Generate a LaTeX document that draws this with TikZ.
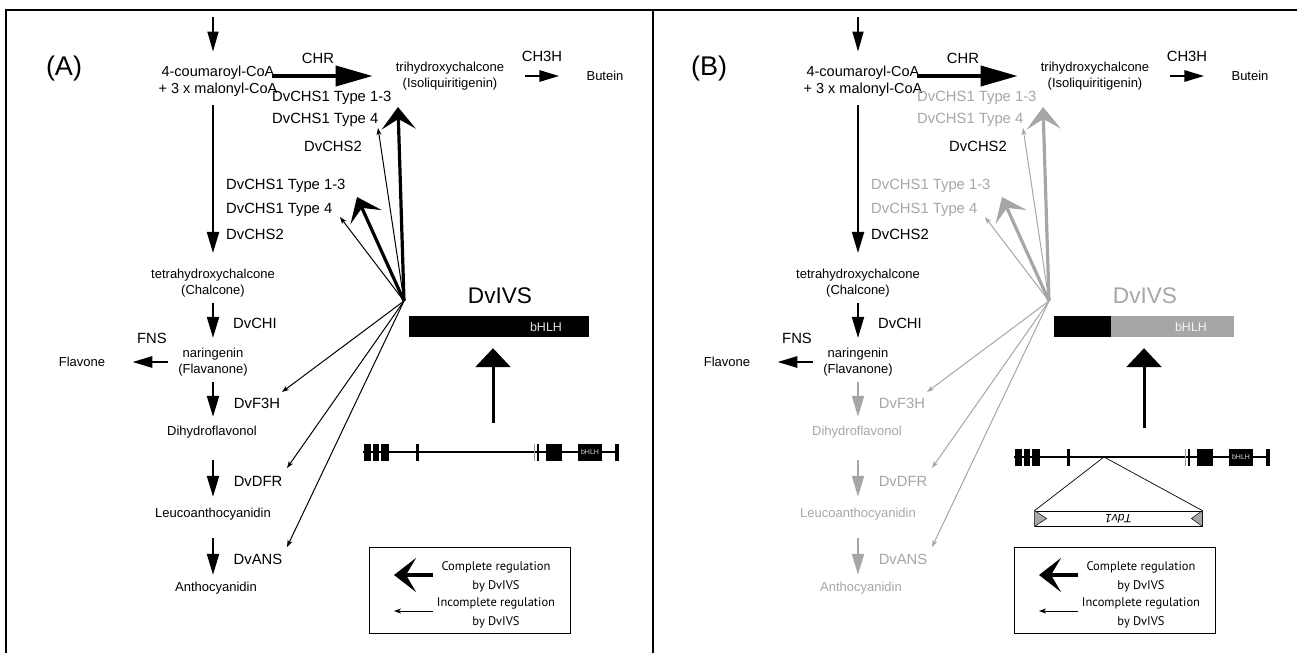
\documentclass[tikz,border=0pt]{standalone}
\usepackage{fontspec}
\setmainfont{Liberation Sans}
\newfontfamily\legfont{PT Sans}
\usetikzlibrary{arrows.meta}
\definecolor{offgray}{RGB}{166,166,166}

% one panel: #1 letter, #2 colour of the steps under DvIVS, #3 shift of the gene model
\newcommand{\flavpanel}[3]{%
  \node (tag) at (64,69) {\fontsize{27}{30}\selectfont #1};
  % compounds
  \node[compound, font=\fontsize{14.5}{17}\selectfont] (coa) at (218,81) {4-coumaroyl-CoA\\+ 3 x malonyl-CoA};
  \node[compound] (tri) at (450,76) {trihydroxychalcone\\(Isoliquiritigenin)};
  \node[compound] (but) at (605,76) {Butein};
  \node[compound] (chal) at (213,283) {tetrahydroxychalcone\\(Chalcone)};
  \node[compound] (nar) at (213,362) {naringenin\\(Flavanone)};
  \node[compound] (flav) at (82,362) {Flavone};
  \node[compound, text=#2] (dih) at (212,432) {Dihydroflavonol};
  \node[compound, text=#2] (leu) at (213,514) {Leucoanthocyanidin};
  \node[compound, text=#2] (ant) at (216,588) {Anthocyanidin};
  % enzymes
  \node[enzyme] (chr) at (318,58) {CHR};
  \node[enzyme] (chh) at (542,56) {CH3H};
  \node[enzyme, anchor=west, text=#2] (u13) at (272,98) {DvCHS1 Type 1-3};
  \node[enzyme, anchor=west, text=#2] (u4) at (272,120) {DvCHS1 Type 4};
  \node[enzyme] (u2) at (333,146) {DvCHS2};
  \node[enzyme, anchor=west, text=#2] (l13) at (226,186) {DvCHS1 Type 1-3};
  \node[enzyme, anchor=west, text=#2] (l4) at (226,210) {DvCHS1 Type 4};
  \node[enzyme, anchor=west] (l2) at (226,234) {DvCHS2};
  \node[enzyme] (chi) at (255,323) {DvCHI};
  \node[enzyme] (fns) at (152,338) {FNS};
  \node[enzyme, text=#2] (f3h) at (257,403) {DvF3H};
  \node[enzyme, text=#2] (dfr) at (258,481) {DvDFR};
  \node[enzyme, text=#2] (ans) at (258,559) {DvANS};
  % pathway
  \coordinate (in) at (213,17);
  \draw[feed, shorten >=14pt] (in) -- (in |- coa.north);
  \draw[conv, line width=2.2pt, shorten <=9pt, shorten >=15.5pt] (in |- coa.south) -- (in |- chal.north);
  \draw[conv, shorten <=5.6pt, shorten >=9.6pt] (in |- chal.south) -- (in |- nar.north);
  \draw[conv, #2, shorten <=5.6pt, shorten >=8.9pt] (in |- nar.south) -- (in |- dih.north);
  \draw[conv, #2, shorten <=21.9pt, shorten >=10.9pt] (in |- dih.south) -- (in |- leu.north);
  \draw[conv, #2, shorten <=17.9pt, shorten >=6.9pt] (in |- leu.south) -- (in |- ant.north);
  \draw[mainflux, shorten >=23pt] ([xshift=-5.5pt,yshift=5pt]coa.east) -- (tri.west);
  \draw[sideflux, shorten <=21pt, shorten >=27pt] (tri.east) -- (but.west);
  \draw[sideflux, shorten <=10pt, shorten >=27pt] (nar.west) -- (flav.east);
  % DvIVS targets
  \coordinate (hub) at (404,301);
  \coordinate (t-u13) at (398,107);
  \coordinate (t-u4) at (378,128);
  \coordinate (t-l13) at (357,197);
  \coordinate (t-l4) at (340,217);
  \coordinate (t-f3h) at (282,392);
  \coordinate (t-dfr) at (287,468);
  \coordinate (t-ans) at (287,547);
  \foreach \tip in {u13,l13} \draw[strongreg, #2] (hub) -- (t-\tip);
  \foreach \tip in {u4,l4,f3h,dfr,ans} \draw[weakreg, #2] (hub) -- (t-\tip);
  % protein
  \node[text=#2, font=\fontsize{22.6}{24}\selectfont] (ivs) at (500,296) {DvIVS};
  \node[fill=#2, minimum width=180pt, minimum height=21pt, inner sep=0pt] (bar) at (499,326.5) {};
  \fill (bar.north west) rectangle ([xshift=57pt]bar.south west);
  \node[text=white!88!#2, font=\fontsize{12.5}{13}\selectfont, inner sep=0pt] (dom) at (546,327) {bHLH};
  % gene model
  \begin{scope}[shift={#3}]
    \draw[line width=1.5pt] (363,452) -- (618,452);
    \foreach \a/\b in {364/371,373/379,381/389,416/419,536.5/539,546/562,578/602,615/619}
      \fill (\a,443.5) rectangle (\b,460.5);
    \draw[black!40, line width=0.8pt] (534.5,443.5) -- (534.5,460.5);
    \node[text=white!85!black, font=\fontsize{7}{7}\selectfont, inner sep=0pt] (gdom) at (590,452) {bHLH};
    \coordinate (gm) at (493,423);
  \end{scope}
  \draw[lift, shorten >=11pt] (gm) -- (gm |- bar.south);
  % key
  \draw[line width=1pt] (369,547) rectangle (570,633);
  \coordinate (k1) at (433,575);
  \coordinate (k2) at (394,575);
  \coordinate (k3) at (433,611);
  \coordinate (k4) at (394,611);
  \draw[strongreg] (k1) -- (k2);
  \draw[weakreg] (k3) -- (k4);
  \node[legtext] (kt1) at (496,567) {Complete regulation};
  \node[legtext] (kt2) at (496,586) {by DvIVS};
  \node[legtext] (kt3) at (496,603) {Incomplete regulation};
  \node[legtext] (kt4) at (496,622) {by DvIVS};
}

\begin{document}
\begin{tikzpicture}[x=1pt, y=-1pt,
  compound/.style={inner sep=0pt, align=center, font=\fontsize{13}{16.5}\selectfont},
  enzyme/.style={inner sep=0pt, font=\fontsize{14.8}{17}\selectfont},
  legtext/.style={inner sep=0pt, font=\legfont\fontsize{12.5}{14}\selectfont},
  conv/.style={-{Triangle[length=21pt,width=12pt]}, line width=2pt},
  feed/.style={-{Triangle[length=20pt,width=11pt]}, line width=1.5pt},
  mainflux/.style={-{Triangle[length=37pt,width=20pt]}, line width=4pt},
  sideflux/.style={-{Triangle[length=20pt,width=11pt]}, line width=2.8pt},
  strongreg/.style={-{Stealth[length=22pt,width=34pt,inset=10pt]}, line width=3.2pt},
  weakreg/.style={-{Stealth[length=7pt,width=5pt,inset=2pt]}, line width=1pt},
  lift/.style={-{Triangle[length=19pt,width=35pt]}, line width=3pt}]
  \useasboundingbox (0,0) rectangle (1297,653);
  \draw[line width=1.5pt] (6,653) -- (6,10) -- (1297,10); % frame
  \draw[line width=1.5pt] (653,10) -- (653,653); % divider
  \begin{scope}[name prefix=a-]
    \flavpanel{(A)}{black}{(0,0)}
  \end{scope}
  \begin{scope}[xshift=645pt, name prefix=b-]
    \flavpanel{(B)}{offgray}{(6,5)}
    % Tdv1 insertion
    \begin{scope}[shift={(6,5)}]
      \coordinate (ins) at (453,452);
      \node[draw, line width=0.8pt, minimum width=167pt, minimum height=15pt, inner sep=0pt] (tdv) at (467.5,513.5) {};
      \draw[line width=0.7pt] (tdv.north west) -- (ins) -- (tdv.north east);
      \filldraw[fill=offgray, line width=0.5pt] (tdv.north west) -- (tdv.south west) -- ([xshift=12pt]tdv.west) -- cycle;
      \filldraw[fill=offgray, line width=0.5pt] (tdv.north east) -- (tdv.south east) -- ([xshift=-11pt]tdv.east) -- cycle;
      \node[rotate=180, inner sep=0pt, font=\itshape\fontsize{12}{12}\selectfont] (tlab) at (tdv.center) {Tdv1};
    \end{scope}
  \end{scope}
\end{tikzpicture}
\end{document}
